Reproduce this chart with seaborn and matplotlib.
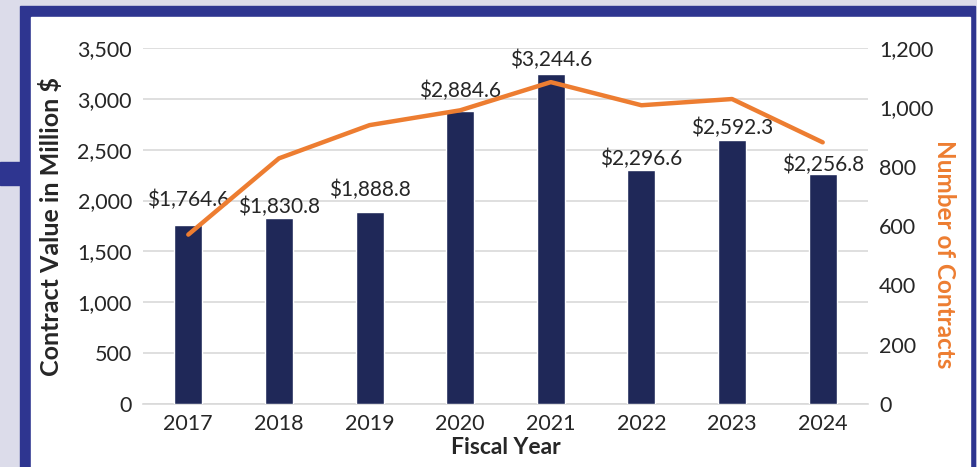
import matplotlib
matplotlib.use('Agg')
import matplotlib.pyplot as plt
import matplotlib.patches as patches
import seaborn as sns

# Data
years = ['2017', '2018', '2019', '2020', '2021', '2022', '2023', '2024']
contract_value = [1764.6, 1830.8, 1888.8, 2884.6, 3244.6, 2296.6, 2592.3, 2256.8]
num_contracts = [571, 828, 940, 990, 1085, 1007, 1028, 882]

# label lift above each bar (points), nudged by hand to clear the line
label_lift = [18, 8, 16, 14, 10, 8, 9, 7]

bar_color = '#1f2858'
line_color = '#ed7d31'
frame_color = '#2e3590'

sns.set_style('white')
plt.rcParams['font.family'] = ['Lato', 'DejaVu Sans']
plt.rcParams['ytick.major.pad'] = 8
plt.rcParams['ytick.major.size'] = 0
plt.rcParams['xtick.major.size'] = 0

fig = plt.figure(figsize=(9.77, 4.67), dpi=100)
fig.patch.set_facecolor('#dcdcea')

# Slide frame behind the chart
fig.patches.append(patches.Rectangle((0, 1 - 185 / 467), 20 / 977, 23 / 467,
                                     transform=fig.transFigure, color=frame_color, zorder=-3))
fig.patches.append(patches.Rectangle((20 / 977, 0), 955 / 977, 1 - 6 / 467,
                                     transform=fig.transFigure, color=frame_color, zorder=-2))
fig.patches.append(patches.Rectangle((31 / 977, 0), 939 / 977, 1 - 17 / 467,
                                     transform=fig.transFigure, color='white', zorder=-1))

ax = fig.add_axes([143 / 977, 1 - 404 / 467, 725 / 977, 356 / 467])
ax.set_facecolor('none')

sns.barplot(x=years, y=contract_value, ax=ax, color=bar_color, width=0.31,
            saturation=1, zorder=3)
for bar, v, lift in zip(ax.containers[0], contract_value, label_lift):
    ax.annotate(f'${v:,.1f}', (bar.get_x() + bar.get_width() / 2, bar.get_height()),
                xytext=(0, lift), textcoords='offset points',
                ha='center', va='center', fontsize=15)

ax.set_ylim(0, 3500)
ax.set_yticks(range(0, 3501, 500))
ax.set_yticklabels([f'{v:,}' for v in range(0, 3501, 500)], fontsize=15.5)
ax.set_xlim(-0.5, 7.5)
ax.tick_params(axis='x', labelsize=15.5, length=0, pad=7)
ax.yaxis.grid(True, color='#d9d9d9', linewidth=1.2, zorder=0)
ax.set_axisbelow(True)
for s in ['top', 'right', 'left']:
    ax.spines[s].set_visible(False)
ax.spines['bottom'].set_color('#d9d9d9')
ax.spines['bottom'].set_linewidth(1.2)
ax.set_xlabel('Fiscal Year', fontsize=16.5, fontweight='bold', labelpad=2)
ax.set_ylabel('Contract Value in Million $', fontsize=18, fontweight='bold', labelpad=10)

ax2 = ax.twinx()
sns.pointplot(x=years, y=num_contracts, ax=ax2, color=line_color, markers='',
              linewidth=3.2, zorder=5)
ax2.set_ylim(0, 1200)
ax2.set_yticks(range(0, 1201, 200))
ax2.set_yticklabels([f'{v:,}' for v in range(0, 1201, 200)], fontsize=15.5)
ax2.set_xlim(-0.5, 7.5)
for s in ['top', 'right', 'left', 'bottom']:
    ax2.spines[s].set_visible(False)
ax2.set_ylabel('Number of Contracts', fontsize=17.5, fontweight='bold',
               color=line_color, rotation=270, va='bottom', labelpad=0)
ax2.yaxis.label.set_y(0.42)

fig.savefig('out.png', dpi=100)
